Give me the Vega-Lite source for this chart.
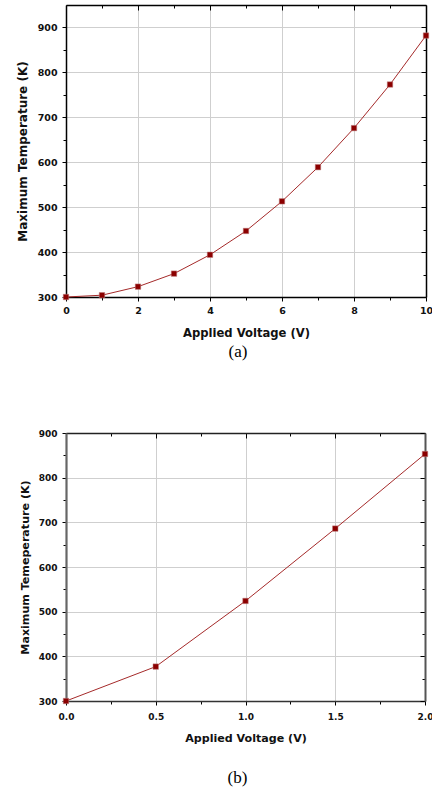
{
  "$schema": "https://vega.github.io/schema/vega-lite/v6.json",
  "padding": {"left": 16, "top": 4, "right": 2, "bottom": 4},
  "spacing": 68,
  "config": {
    "view": {"stroke": null},
    "font": "DejaVu Sans",
    "axis": {
      "labelFont": "DejaVu Sans",
      "labelFontWeight": "bold",
      "labelColor": "#111",
      "labelFlush": false,
      "labelOverlap": false,
      "titleFont": "DejaVu Sans",
      "titleFontWeight": "bold",
      "titleColor": "#111",
      "domainColor": "#000",
      "domainWidth": 1.5,
      "tickColor": "#000",
      "tickWidth": 1,
      "gridColor": "#cfcfcf",
      "gridWidth": 1
    }
  },
  "vconcat": [
    {
      "width": 360,
      "height": 292,
      "data": {"values": [
        {"v": 0, "t": 300}, {"v": 1, "t": 304}, {"v": 2, "t": 323}, {"v": 3, "t": 352},
        {"v": 4, "t": 394}, {"v": 5, "t": 447}, {"v": 6, "t": 513}, {"v": 7, "t": 589},
        {"v": 8, "t": 676}, {"v": 9, "t": 773}, {"v": 10, "t": 882}
      ]},
      "title": {"text": "(a)", "orient": "bottom", "font": "Liberation Serif", "fontSize": 17, "fontWeight": "normal", "color": "#000", "offset": 5, "dx": -8, "anchor": "middle"},
      "layer": [
        {
          "mark": {"type": "line", "color": "#A52A2A", "strokeWidth": 1},
          "encoding": {
            "x": {"field": "v", "type": "quantitative", "scale": {"domain": [0, 10], "nice": false},
              "axis": {"orient": "bottom", "title": "Applied Voltage (V)", "titleFontSize": 11.6, "titlePadding": 13, "labelFontSize": 9.5, "labelPadding": 4,
                "values": [0,1,2,3,4,5,6,7,8,9,10],
                "labelExpr": "datum.value % 2 === 0 ? datum.label : ''",
                "tickSize": {"condition": {"test": "datum.value % 2 === 0", "value": 4}, "value": 3},
                "grid": true,
                "gridOpacity": {"condition": {"test": "datum.value % 2 === 0", "value": 1}, "value": 0}}},
            "y": {"field": "t", "type": "quantitative", "scale": {"domain": [300, 950], "nice": false, "zero": false},
              "axis": {"orient": "left", "title": "Maximum Temperature (K)", "titleFontSize": 12, "titlePadding": 8, "labelFontSize": 9.5, "labelPadding": 5,
                "values": [300,350,400,450,500,550,600,650,700,750,800,850,900],
                "labelExpr": "datum.value % 100 === 0 ? datum.label : ''",
                "tickSize": {"condition": {"test": "datum.value % 100 === 0", "value": 4}, "value": 3},
                "grid": true,
                "gridOpacity": {"condition": {"test": "datum.value % 100 === 0", "value": 1}, "value": 0}}}
          }
        },
        {
          "mark": {"type": "point", "shape": "square", "filled": true, "color": "#8B0000", "size": 30, "opacity": 1, "stroke": "#c08080", "strokeWidth": 0.5},
          "encoding": {
            "x": {"field": "v", "type": "quantitative", "scale": {"domain": [0, 10], "nice": false},
              "axis": {"orient": "top", "title": null, "labels": false, "grid": false,
                "values": [0,1,2,3,4,5,6,7,8,9,10],
                "tickSize": {"condition": {"test": "datum.value % 2 === 0", "value": -5}, "value": -3}}},
            "y": {"field": "t", "type": "quantitative", "scale": {"domain": [300, 950], "nice": false, "zero": false},
              "axis": {"orient": "right", "title": null, "labels": false, "grid": false,
                "values": [300,350,400,450,500,550,600,650,700,750,800,850,900],
                "tickSize": {"condition": {"test": "datum.value % 100 === 0", "value": -5}, "value": -3}}}
          }
        }
      ],
      "resolve": {"axis": {"x": "independent", "y": "independent"}}
    },
    {
      "width": 359,
      "height": 268,
      "data": {"values": [
        {"v": 0, "t": 300}, {"v": 0.5, "t": 377}, {"v": 1.0, "t": 524}, {"v": 1.5, "t": 686}, {"v": 2.0, "t": 853}
      ]},
      "title": {"text": "(b)", "orient": "bottom", "font": "Liberation Serif", "fontSize": 17, "fontWeight": "normal", "color": "#000", "offset": 27, "dx": -8, "anchor": "middle"},
      "layer": [
        {
          "mark": {"type": "line", "color": "#A52A2A", "strokeWidth": 1},
          "encoding": {
            "x": {"field": "v", "type": "quantitative", "scale": {"domain": [0, 2], "nice": false},
              "axis": {"orient": "bottom", "title": "Applied Voltage (V)", "titleFontSize": 11.1, "titlePadding": 11, "labelFontSize": 9, "labelPadding": 7, "format": ".1f",
                "domainColor": "#333",
                "values": [0,0.25,0.5,0.75,1,1.25,1.5,1.75,2],
                "labelExpr": "datum.value % 0.5 === 0 ? datum.label : ''",
                "tickSize": {"condition": {"test": "datum.value % 0.5 === 0", "value": 4}, "value": 3},
                "grid": true,
                "gridOpacity": {"condition": {"test": "datum.value % 0.5 === 0", "value": 1}, "value": 0}}},
            "y": {"field": "t", "type": "quantitative", "scale": {"domain": [300, 900], "nice": false, "zero": false},
              "axis": {"orient": "left", "title": "Maximum Temeperature (K)", "titleFontSize": 11.1, "titlePadding": 8, "labelFontSize": 9, "labelPadding": 5,
                "domainColor": "#666", "domainWidth": 2.2,
                "values": [300,350,400,450,500,550,600,650,700,750,800,850,900],
                "labelExpr": "datum.value % 100 === 0 ? datum.label : ''",
                "tickSize": {"condition": {"test": "datum.value % 100 === 0", "value": 4}, "value": 3},
                "grid": true,
                "gridOpacity": {"condition": {"test": "datum.value % 100 === 0", "value": 1}, "value": 0}}}
          }
        },
        {
          "mark": {"type": "point", "shape": "square", "filled": true, "color": "#8B0000", "size": 30, "opacity": 1, "stroke": "#c08080", "strokeWidth": 0.5},
          "encoding": {
            "x": {"field": "v", "type": "quantitative", "scale": {"domain": [0, 2], "nice": false},
              "axis": {"orient": "top", "title": null, "labels": false, "grid": false, "domainColor": "#222",
                "values": [0,0.25,0.5,0.75,1,1.25,1.5,1.75,2],
                "tickSize": {"condition": {"test": "datum.value % 0.5 === 0", "value": -5}, "value": -3}}},
            "y": {"field": "t", "type": "quantitative", "scale": {"domain": [300, 900], "nice": false, "zero": false},
              "axis": {"orient": "right", "title": null, "labels": false, "grid": false, "domainColor": "#555", "domainWidth": 2,
                "values": [300,350,400,450,500,550,600,650,700,750,800,850,900],
                "tickSize": {"condition": {"test": "datum.value % 100 === 0", "value": -5}, "value": -3}}}
          }
        }
      ],
      "resolve": {"axis": {"x": "independent", "y": "independent"}}
    }
  ]
}
